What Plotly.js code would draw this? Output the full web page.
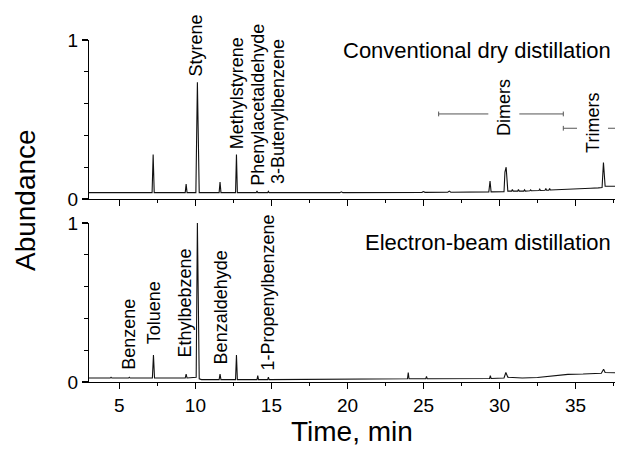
<!DOCTYPE html>
<html>
<head>
<meta charset="utf-8">
<script src="https://cdn.plot.ly/plotly-3.0.1.min.js"></script>
<style>html,body{margin:0;padding:0;background:#fff;}#chart{width:617px;height:449px;}</style>
</head>
<body>
<div id="chart"></div>
<script>
// Conventional dry distillation chromatogram (time, min / abundance)
const convTime = [3.0, 7.15, 7.22, 7.29, 9.33, 9.39, 9.45, 10.03, 10.13, 10.25, 11.56, 11.62, 11.68, 12.64, 12.70, 12.76,
  14.0, 14.05, 14.1, 14.75, 14.8, 14.85, 19.5, 19.6, 19.7, 24.9, 25.0, 25.1, 26.6, 26.7, 26.8, 29.3, 29.38, 29.45,
  30.3, 30.36, 30.44, 30.55, 30.8, 30.85, 30.9, 31.2, 31.25, 31.3, 31.6, 31.65, 31.7, 32.0, 32.05, 32.1, 32.6, 32.65, 32.7,
  33.0, 33.05, 33.1, 33.25, 33.3, 33.35, 34.2, 35.0, 36.0, 36.5, 36.75, 36.84, 36.95, 37.6];
const convAbund = [0.04, 0.04, 0.28, 0.04, 0.04, 0.094, 0.04, 0.04, 0.735, 0.04, 0.04, 0.107, 0.04, 0.04, 0.28, 0.04,
  0.04, 0.05, 0.04, 0.04, 0.048, 0.04, 0.04, 0.045, 0.04, 0.042, 0.047, 0.042, 0.043, 0.05, 0.043, 0.045, 0.113, 0.045,
  0.046, 0.17, 0.20, 0.05, 0.05, 0.06, 0.05, 0.05, 0.06, 0.05, 0.05, 0.058, 0.05, 0.052, 0.058, 0.052, 0.054, 0.062, 0.054,
  0.055, 0.066, 0.055, 0.056, 0.066, 0.057, 0.062, 0.064, 0.068, 0.07, 0.072, 0.23, 0.08, 0.08];

// Electron-beam distillation chromatogram
const ebTime = [3.0, 4.4, 4.45, 4.5, 5.6, 5.65, 5.7, 7.17, 7.24, 7.31, 9.33, 9.39, 9.45, 10.05, 10.13, 10.25, 10.4,
  11.56, 11.62, 11.68, 12.64, 12.70, 12.76, 14.05, 14.1, 14.15, 14.75, 14.8, 14.85, 19.6, 23.95, 24.0, 24.05,
  25.15, 25.2, 25.25, 29.35, 29.4, 29.45, 30.3, 30.42, 30.55, 31.5, 32.5, 33.5, 34.5, 35.5, 36.7, 36.85, 36.95, 37.6];
const ebAbund = [0.025, 0.025, 0.03, 0.025, 0.025, 0.03, 0.025, 0.025, 0.17, 0.025, 0.025, 0.05, 0.025, 0.03, 1.0, 0.02, 0.015,
  0.015, 0.05, 0.015, 0.015, 0.17, 0.015, 0.015, 0.04, 0.015, 0.015, 0.03, 0.015, 0.018, 0.02, 0.06, 0.02,
  0.02, 0.035, 0.02, 0.022, 0.04, 0.022, 0.025, 0.06, 0.03, 0.025, 0.028, 0.038, 0.048, 0.05, 0.055, 0.08, 0.06, 0.058];

// Peak labels: [text, time, bottom abundance]
const convLabels = [["Styrene", 10.07, 0.767], ["Methylstyrene", 12.7, 0.31], ["Phenylacetaldehyde", 14.1, 0.075], ["3-Butenylbenzene", 15.4, 0.088]];
const ebLabels = [["Benzene", 5.66, 0.07], ["Toluene", 7.3, 0.23], ["Ethylbebzene", 9.32, 0.145], ["Benzaldehyde", 11.71, 0.107], ["1-Propenylbenzene", 14.75, 0.063]];

// Oligomer ranges: [text, start, end, bar level, label center time, label center abundance]
const oligomers = [["Dimers", 26.0, 34.2, 0.535, 30.26, 0.575], ["Trimers", 34.2, 38.5, 0.445, 36.1, 0.48]];

const panelTitles = ["Conventional dry distillation", "Electron-beam distillation"];
const xTicks = [5, 10, 15, 20, 25, 30, 35];

const FONT = "Liberation Sans, Arial, sans-serif";
const lineStyle = {color: "#111", width: 1.1};

const traces = [
  {x: convTime, y: convAbund, xaxis: "x", yaxis: "y", mode: "lines", line: lineStyle, hoverinfo: "skip"},
  {x: ebTime, y: ebAbund, xaxis: "x2", yaxis: "y2", mode: "lines", line: lineStyle, hoverinfo: "skip"}
];

const annotations = [];
const shapes = [];
function addLabels(list, xr, yr) {
  list.forEach(l => annotations.push({text: l[0], x: l[1], y: l[2], xref: xr, yref: yr, textangle: -90,
    xanchor: "center", yanchor: "bottom", showarrow: false, font: {family: FONT, size: 18, color: "#000"}, borderpad: 0}));
}
addLabels(convLabels, "x", "y");
addLabels(ebLabels, "x2", "y2");

oligomers.forEach(o => {
  const c = "#555";
  shapes.push({type: "line", xref: "x", yref: "y", x0: o[1], x1: o[2], y0: o[3], y1: o[3], line: {color: c, width: 1}});
  [o[1], o[2]].forEach(xx => shapes.push({type: "line", xref: "x", yref: "y", x0: xx, x1: xx, y0: o[3] - 0.015, y1: o[3] + 0.015, line: {color: c, width: 1}}));
  annotations.push({text: o[0], x: o[4], y: o[5], xref: "x", yref: "y", textangle: -90, xanchor: "center", yanchor: "middle",
    showarrow: false, bgcolor: "#fff", borderpad: 5, font: {family: FONT, size: 18, color: "#000"}});
});

annotations.push({text: panelTitles[0], xref: "paper", yref: "y", x: 1, xanchor: "right", xshift: -2, y: 0.937, yanchor: "middle",
  showarrow: false, font: {family: FONT, size: 22, color: "#000"}});
annotations.push({text: panelTitles[1], xref: "paper", yref: "y2", x: 1, xanchor: "right", xshift: -2, y: 0.88, yanchor: "middle",
  showarrow: false, font: {family: FONT, size: 22, color: "#000"}});
annotations.push({text: "Abundance", xref: "paper", yref: "paper", x: -0.1217, y: 0.532, xanchor: "center", yanchor: "middle",
  textangle: -90, showarrow: false, font: {family: FONT, size: 28, color: "#000"}});
annotations.push({text: "Time, min", xref: "paper", yref: "paper", x: 0.5, y: -0.193, xanchor: "center", yanchor: "bottom",
  showarrow: false, borderpad: 0, font: {family: FONT, size: 28, color: "#000"}});

const xCommon = {range: [3, 37.6], showgrid: false, zeroline: false, showline: true, linecolor: "#000", linewidth: 1.2,
  ticks: "outside", ticklen: 6, tickcolor: "#000", tickwidth: 1.2, tickvals: xTicks,
  minor: {dtick: 2.5, tick0: 0, ticks: "outside", ticklen: 3, tickcolor: "#000", tickwidth: 1.2},
  tickfont: {family: FONT, size: 19, color: "#000"}};
const yCommon = {range: [0, 1], showgrid: false, zeroline: false, showline: true, linecolor: "#000", linewidth: 1.2,
  ticks: "outside", ticklen: 6, tickcolor: "#000", tickwidth: 1.2, tickvals: [0, 1], ticktext: ["0", "1"],
  minor: {dtick: 0.2, tick0: 0, ticks: "outside", ticklen: 4, tickcolor: "#000", tickwidth: 1.2},
  tickfont: {family: FONT, size: 19, color: "#000"}};

const layout = {
  width: 617, height: 449,
  margin: {l: 89, r: 2, t: 40, b: 67},
  paper_bgcolor: "#fff", plot_bgcolor: "#fff",
  showlegend: false,
  xaxis: Object.assign({}, xCommon, {anchor: "y", showticklabels: false, matches: "x2"}),
  xaxis2: Object.assign({}, xCommon, {anchor: "y2"}),
  yaxis: Object.assign({}, yCommon, {anchor: "x", domain: [0.535, 1]}),
  yaxis2: Object.assign({}, yCommon, {anchor: "x2", domain: [0, 0.465]}),
  annotations: annotations,
  shapes: shapes
};

Plotly.newPlot("chart", traces, layout, {staticPlot: true, displayModeBar: false});
</script>
</body>
</html>
